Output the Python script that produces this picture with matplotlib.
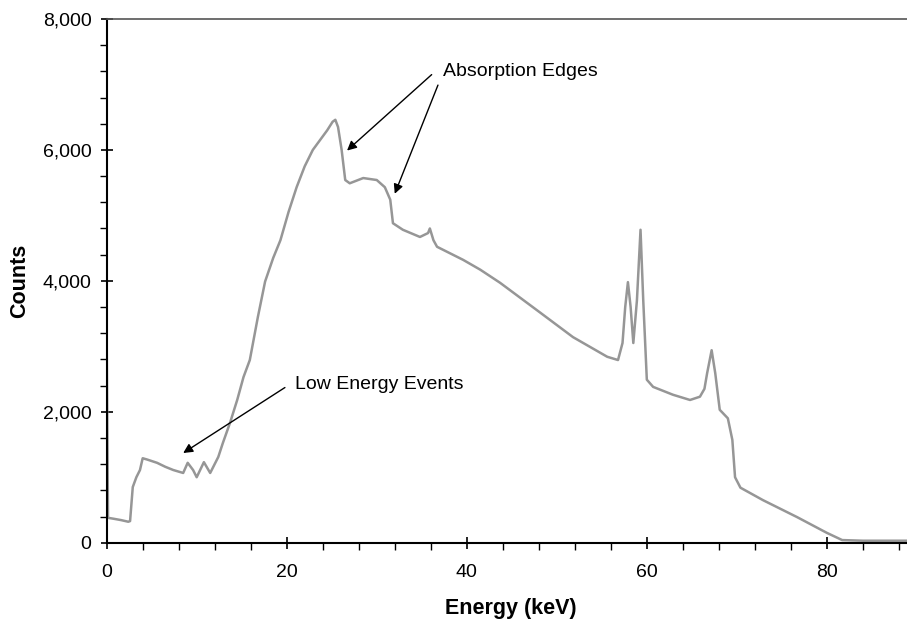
import matplotlib
matplotlib.use("Agg")
import matplotlib.pyplot as plt
from matplotlib.ticker import MultipleLocator, StrMethodFormatter

# spectrum (keV, counts)
energy = [0.0, 0.15, 0.8, 1.6, 2.4, 2.6, 2.9, 3.3, 3.7, 4.0, 4.5, 5.6, 6.5, 7.4,
          8.5, 9.0, 9.6, 10.0, 10.8, 11.5, 12.4, 12.9, 13.7, 14.5, 15.2, 15.9,
          16.8, 17.6, 18.5, 19.3, 20.2, 21.1, 22.0, 22.9, 23.7, 24.5, 25.1,
          25.4, 25.7, 26.1, 26.5, 27.0, 28.5, 30.0, 30.9, 31.5, 31.8, 32.9,
          34.8, 35.7, 35.9, 36.3, 36.7, 39.6, 41.5, 43.7, 48.2, 51.8, 55.6,
          56.8, 57.3, 57.6, 57.9, 58.2, 58.5, 58.9, 59.3, 59.6, 60.0, 60.7,
          62.9, 64.8, 65.9, 66.4, 66.7, 67.2, 67.6, 68.1, 69.0, 69.5, 69.8,
          70.4, 72.9, 76.7, 80.0, 81.7, 84.0, 88.9]
counts = [3100, 380, 365, 345, 320, 330, 850, 1000, 1110, 1290, 1270, 1220,
          1160, 1110, 1065, 1220, 1110, 1000, 1230, 1065, 1310, 1520, 1830,
          2180, 2530, 2790, 3450, 3990, 4350, 4620, 5050, 5430, 5750, 6000,
          6150, 6300, 6430, 6460, 6350, 6000, 5540, 5490, 5570, 5540, 5430,
          5240, 4880, 4780, 4670, 4730, 4800, 4620, 4520, 4320, 4170, 3970,
          3510, 3140, 2840, 2790, 3050, 3600, 3980, 3600, 3050, 3700, 4780,
          3710, 2490, 2380, 2260, 2180, 2230, 2350, 2590, 2940, 2590, 2030,
          1900, 1570, 1000, 840, 650, 390, 150, 40, 30, 30]

x_ticks = [0, 20, 40, 60, 80]
y_ticks = [0, 2000, 4000, 6000, 8000]

plt.rcParams["font.family"] = ["Liberation Sans", "DejaVu Sans"]

fig = plt.figure(figsize=(9.07, 6.2), dpi=100)
ax = fig.add_axes([0.1176, 0.1247, 0.8824, 0.8447])

ax.plot(energy, counts, color="#969696", lw=1.8)

ax.set_xlim(0, 88.9)
ax.set_ylim(0, 8000)
ax.set_xticks(x_ticks)
ax.set_yticks(y_ticks)
ax.xaxis.set_minor_locator(MultipleLocator(4))
ax.yaxis.set_minor_locator(MultipleLocator(400))
ax.yaxis.set_major_formatter(StrMethodFormatter("{x:,.0f}"))

ax.tick_params(which="major", direction="inout", length=9, width=1.2,
               labelsize=14)
ax.tick_params(axis="x", which="major", pad=11)
ax.tick_params(axis="y", which="major", pad=6.5)
ax.tick_params(which="minor", direction="out", length=5, width=1.0)

ax.spines["right"].set_visible(False)
ax.spines["top"].set_color("#555555")
ax.spines["top"].set_linewidth(1.2)
ax.spines["left"].set_linewidth(1.5)
ax.spines["bottom"].set_linewidth(1.5)

ax.set_xlabel("Energy (keV)", fontsize=15.5, fontweight="bold", va="center")
ax.set_ylabel("Counts", fontsize=15.5, fontweight="bold", va="center")
ax.xaxis.set_label_coords(0.505, -0.125)
ax.yaxis.set_label_coords(-0.109, 0.50)

arrow = dict(arrowstyle="-|>", color="black", lw=1.0, mutation_scale=14,
             shrinkA=0, shrinkB=0)
ax.annotate("", xy=(26.7, 5990), xytext=(36.1, 7150), arrowprops=arrow)
ax.annotate("", xy=(32.0, 5330), xytext=(36.8, 6990), arrowprops=arrow)
ax.text(37.4, 7190, "Absorption Edges", fontsize=14, va="center", ha="left")

ax.annotate("", xy=(8.5, 1370), xytext=(19.8, 2370), arrowprops=arrow)
ax.text(20.9, 2410, "Low Energy Events", fontsize=14, va="center", ha="left")

fig.savefig("out.png", dpi=100)
